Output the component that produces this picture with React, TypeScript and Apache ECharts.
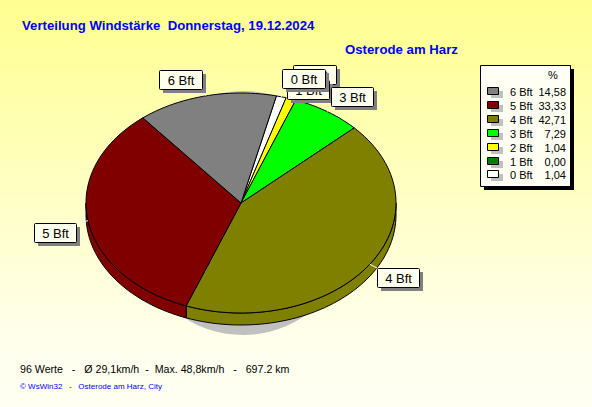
import React, { useEffect, useRef } from "react";
import * as echarts from "echarts";

const categories = ["0 Bft", "1 Bft", "2 Bft", "3 Bft", "4 Bft", "5 Bft", "6 Bft"];
const values = [1.04, 0.0, 1.04, 7.29, 42.71, 33.33, 14.58];
const colors = ["#FFFFFF", "#008000", "#FFFF00", "#00FF00", "#808000", "#800000", "#808080"];
const valueLabels = ["1,04", "0,00", "1,04", "7,29", "42,71", "33,33", "14,58"];
const legendOrder = [6, 5, 4, 3, 2, 1, 0];
const labelBoxes: Record<string, number[]> = {
  "0 Bft": [282, 69, 43, 19],
  "1 Bft": [287, 80, 42, 19],
  "2 Bft": [293, 65, 43, 19],
  "3 Bft": [331, 87, 42, 19],
  "4 Bft": [377, 268, 42, 19],
  "5 Bft": [34, 223, 42, 19],
  "6 Bft": [159, 70, 43, 19],
};
const labelLayer: Record<string, number> = { "2 Bft": 10, "1 Bft": 12, "0 Bft": 14, "3 Bft": 16, "4 Bft": 18, "5 Bft": 20, "6 Bft": 22 };
const title = "Verteilung Windstärke  Donnerstag, 19.12.2024";
const station = "Osterode am Harz";
const stats = "96 Werte   -   Ø 29,1km/h  -  Max. 48,8km/h   -   697.2 km";
const credit = "© WsWin32   -   Osterode am Harz, City";

const CX = 241, CY = 203, RX = 155, RY = 110, DEPTH = 12, START = 13.2;
const pt = (deg: number, dy = 0) => {
  const a = (deg * Math.PI) / 180;
  return [CX + RX * Math.sin(a), CY + dy - RY * Math.cos(a)];
};
const arcPts = (a0: number, a1: number, dy = 0) => {
  const out: number[][] = [];
  const n = Math.max(2, Math.ceil((a1 - a0) / 2));
  for (let i = 0; i <= n; i++) out.push(pt(a0 + ((a1 - a0) * i) / n, dy));
  return out;
};

export default function App() {
  const ref = useRef<HTMLDivElement>(null);
  useEffect(() => {
    document.body.style.margin = "0";
    const chart = echarts.init(ref.current!, null, { renderer: "svg" });
    const total = values.reduce((a, b) => a + b, 0);
    const family = "Arial, 'Liberation Sans', sans-serif";
    const rows = categories.map((c, i) => [i, values[i]]);
    const renderItem = (params: any, api: any) => {
      const i = params.dataIndex;
      let acc = 0;
      for (let k = 0; k < i; k++) acc += values[k];
      const v = api.value(1);
      const a0 = START + (acc / total) * 360;
      const a1 = a0 + (v / total) * 360;
      const children: any[] = [];
      if (v <= 0) return { type: "group", children };
      const lo = Math.max(a0, 90), hi = Math.min(a1, 270);
      if (lo < hi) {
        const top = arcPts(lo, hi);
        const bot = arcPts(lo, hi, DEPTH).reverse();
        children.push({
          type: "polygon",
          z2: 2,
          shape: { points: [...top, ...bot] },
          style: { fill: colors[i], stroke: "#000", lineWidth: 1 },
        });
      }
      children.push({
        type: "polygon",
        z2: 3,
        shape: { points: [[CX, CY], ...arcPts(a0, a1)] },
        style: { fill: colors[i], stroke: "#000", lineWidth: 1 },
      });
      return { type: "group", children };
    };
    const labelSeries = (params: any, api: any) => {
      const i = params.dataIndex;
      const name = categories[i];
      const b = labelBoxes[name];
      const z = labelLayer[name];
      let acc = 0;
      for (let k = 0; k < i; k++) acc += values[k];
      const mid = START + ((acc + values[i] / 2) / total) * 360;
      const p = pt(mid);
      const cx = b[0] + b[2] / 2, cy = b[1] + b[3] / 2;
      const tx = Math.min(Math.max(p[0], b[0]), b[0] + b[2]);
      const ty = Math.min(Math.max(p[1], b[1]), b[1] + b[3]);
      return {
        type: "group",
        children: [
          { type: "line", z2: z, shape: { x1: p[0], y1: p[1], x2: tx, y2: ty }, style: { stroke: "#fff", lineWidth: 1 } },
          { type: "rect", z2: z, shape: { x: b[0] + 4, y: b[1] + 4, width: b[2], height: b[3] }, style: { fill: "#808080" } },
          { type: "rect", z2: z + 0.5, shape: { x: b[0] + 0.5, y: b[1] + 0.5, width: b[2], height: b[3], r: 1 }, style: { fill: "#FFFFEE", stroke: "#000", lineWidth: 1 } },
          { type: "text", z2: z + 1, style: { x: cx + 0.5, y: cy + 1, text: name, fill: "#000", font: `13px ${family}`, align: "center", verticalAlign: "middle" } },
        ],
      };
    };
    const legendGraphics: any[] = [
      { type: "rect", z: 1, shape: { x: 484, y: 69, width: 90, height: 121 }, style: { fill: "#000" } },
      { type: "rect", z: 2, shape: { x: 480.5, y: 65.5, width: 90, height: 121 }, style: { fill: "#FFFFF4", stroke: "#000", lineWidth: 1 } },
      { type: "text", z: 3, style: { x: 553, y: 75, text: "%", fill: "#000", font: `11px ${family}`, align: "center", verticalAlign: "middle" } },
    ];
    legendOrder.forEach((idx, r) => {
      const y = 92 + r * 13.9;
      const yi = Math.round(y);
      legendGraphics.push(
        { type: "rect", z: 3, shape: { x: 491, y: yi - 1, width: 12, height: 7 }, style: { fill: "#C0C0C0" } },
        { type: "rect", z: 4, shape: { x: 487.5, y: yi - 4.5, width: 11, height: 7 }, style: { fill: colors[idx], stroke: "#000", lineWidth: 1 } },
        { type: "text", z: 4, style: { x: 510, y: yi, text: categories[idx], fill: "#000", font: `11px ${family}`, verticalAlign: "middle" } },
        { type: "text", z: 4, style: { x: 566, y: yi, text: valueLabels[idx], fill: "#000", font: `11px ${family}`, align: "right", verticalAlign: "middle" } }
      );
    });
    chart.setOption({
      animation: false,
      backgroundColor: {
        type: "linear", x: 0, y: 0, x2: 0, y2: 1,
        colorStops: [
          { offset: 0, color: "#FFFF90" },
          { offset: 0.85, color: "#FFFFEE" },
          { offset: 1, color: "#FFFFF2" },
        ],
      },
      graphic: [
        { type: "ellipse", z: 0, shape: { cx: 243, cy: 213, rx: 115, ry: 122 }, style: { fill: "#C0C0C0" } },
        { type: "text", style: { x: 22, y: 25, text: title, fill: "#0000FF", font: `bold 13.2px ${family}`, verticalAlign: "middle" } },
        { type: "text", style: { x: 345, y: 49, text: station, fill: "#0000FF", font: `bold 13.2px ${family}`, verticalAlign: "middle" } },
        { type: "text", style: { x: 20, y: 369, text: stats, fill: "#000", font: `10.65px ${family}`, verticalAlign: "middle" } },
        { type: "text", style: { x: 20, y: 386, text: credit, fill: "#0000FF", font: `8px ${family}`, verticalAlign: "middle" } },
        ...legendGraphics,
      ],
      series: [
        { type: "custom", coordinateSystem: "none", renderItem, data: rows, z: 2, silent: true },
        { type: "custom", coordinateSystem: "none", renderItem: labelSeries, data: rows, z: 5, silent: true },
      ],
    });
    return () => chart.dispose();
  }, []);
  return <div ref={ref} style={{ width: 592, height: 407 }} />;
}
